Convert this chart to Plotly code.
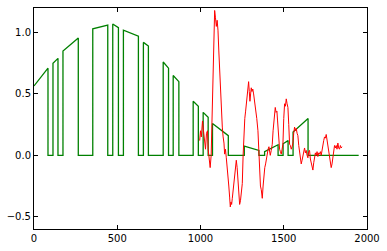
import plotly.graph_objects as go

# Green series: breakpoints (x, y); repeated x values are vertical jumps
green_x = [0, 84, 84, 114, 114, 144, 144, 174, 174, 266, 266, 353, 353, 443, 443, 473, 473, 507, 507,
           537, 537, 627, 627, 657, 657, 687, 687, 776, 776, 808, 808, 836, 836, 870, 870, 956, 956,
           987, 987, 1016, 1016, 1046, 1046, 1072, 1072, 1167, 1167, 1263, 1263, 1351, 1351, 1385,
           1385, 1466, 1466, 1496, 1496, 1526, 1526, 1556, 1556, 1646, 1646, 1950]
green_y = [0.565, 0.71, 0.0, 0.0, 0.75, 0.79, 0.0, 0.0, 0.85, 0.955, 0.0, 0.0, 1.03, 1.06, 0.0, 0.0,
           1.07, 1.04, 0.0, 0.0, 1.02, 0.97, 0.0, 0.0, 0.92, 0.89, 0.0, 0.0, 0.76, 0.71, 0.0, 0.0,
           0.65, 0.60, 0.0, 0.0, 0.44, 0.40, 0.0, 0.0, 0.35, 0.31, 0.0, 0.0, 0.26, 0.16, 0.0, 0.0,
           0.075, 0.04, 0.0, 0.0, 0.03, 0.086, 0.0, 0.0, 0.094, 0.12, 0.0, 0.0, 0.19, 0.30, 0.0, 0.0]

# Red series: points
red_x = [995, 1000, 1005, 1012, 1018, 1025, 1030, 1036, 1042, 1046, 1052, 1058, 1064, 1070, 1075, 1080,
         1085, 1090, 1095, 1100, 1105, 1110, 1115, 1121, 1126, 1131, 1136, 1141, 1145, 1150, 1155, 1160,
         1165, 1170, 1175, 1179, 1183, 1187, 1191, 1196, 1201, 1206, 1210, 1215, 1220, 1225, 1230, 1235,
         1240, 1245, 1251, 1256, 1261, 1266, 1271, 1276, 1281, 1285, 1289, 1293, 1297, 1301, 1305, 1309,
         1314, 1319, 1324, 1331, 1338, 1345, 1350, 1355, 1360, 1365, 1371, 1376, 1381, 1386, 1391, 1396,
         1401, 1406, 1411, 1415, 1419, 1425, 1431, 1436, 1441, 1445, 1449, 1454, 1459, 1463, 1467, 1471,
         1475, 1480, 1485, 1490, 1495, 1500, 1505, 1510, 1515, 1520, 1525, 1530, 1535, 1540, 1545, 1550,
         1555, 1560, 1565, 1570, 1575, 1580, 1585, 1590, 1595, 1600, 1605, 1610, 1615, 1620, 1625, 1630,
         1635, 1640, 1645, 1650, 1655, 1660, 1665, 1670, 1675, 1680, 1685, 1690, 1695, 1700, 1705, 1710,
         1715, 1720, 1725, 1730, 1735, 1740, 1745, 1750, 1755, 1760, 1765, 1770, 1775, 1780, 1785, 1790,
         1795, 1800, 1805, 1810, 1815, 1820, 1825, 1830, 1835, 1840, 1845, 1850]
red_y = [0.12, 0.2, 0.15, 0.28, 0.2, 0.1, 0.05, 0.18, 0.2, 0.05, -0.05, -0.1, 0.0, 0.4, 0.71, 1.0,
         1.18, 1.12, 1.05, 1.1, 1.02, 0.85, 0.71, 0.44, 0.3, 0.23, 0.15, 0.1, 0.01, 0.05, -0.02, -0.08,
         -0.15, -0.25, -0.34, -0.42, -0.38, -0.4, -0.35, -0.28, -0.2, -0.12, -0.06, -0.04, -0.1, -0.2, -0.33, -0.4,
         -0.37, -0.3, -0.23, 0.0, 0.23, 0.3, 0.36, 0.42, 0.5, 0.55, 0.6, 0.52, 0.44, 0.5, 0.55, 0.52,
         0.54, 0.5, 0.45, 0.39, 0.3, 0.2, 0.0, -0.17, -0.25, -0.28, -0.35, -0.25, -0.12, -0.1, -0.07, -0.02,
         0.0, 0.05, 0.07, 0.02, 0.0, 0.04, 0.09, 0.2, 0.3, 0.37, 0.39, 0.35, 0.36, 0.28, 0.2, 0.1,
         0.05, 0.03, 0.01, 0.05, 0.09, 0.3, 0.42, 0.4, 0.46, 0.42, 0.39, 0.25, 0.09, 0.08, 0.05, 0.07,
         0.1, 0.18, 0.23, 0.2, 0.22, 0.18, 0.16, 0.08, 0.01, -0.04, -0.07, -0.04, 0.0, 0.04, 0.06, 0.02,
         0.04, 0.0, -0.02, 0.03, 0.04, -0.03, -0.07, -0.1, -0.12, -0.06, -0.01, 0.02, 0.0, 0.03, -0.01, 0.02,
         0.01, 0.03, 0.0, 0.05, 0.06, 0.12, 0.15, 0.14, 0.17, 0.12, 0.07, 0.02, -0.04, -0.08, -0.1, -0.07,
         -0.03, 0.04, 0.08, 0.06, 0.08, 0.05, 0.1, 0.06, 0.05, 0.08, 0.06, 0.07]

x_ticks = [0, 500, 1000, 1500, 2000]
x_tick_text = ["0", "500", "1000", "1500", "2000"]
y_ticks = [-0.5, 0.0, 0.5, 1.0]
y_tick_text = ["\u22120.5", "0.0", "0.5", "1.0"]

fig = go.Figure()
fig.add_trace(go.Scatter(x=green_x, y=green_y, mode="lines",
                         line=dict(color="#008000", width=1.3), showlegend=False))
fig.add_trace(go.Scatter(x=red_x, y=red_y, mode="lines",
                         line=dict(color="#ff0000", width=1.0), showlegend=False))

axis_common = dict(showline=True, linecolor="black", linewidth=1, mirror="ticks",
                   ticks="inside", ticklen=4, tickwidth=1, tickcolor="black",
                   showgrid=False, zeroline=False,
                   tickfont=dict(family="DejaVu Sans", size=10, color="black"))

fig.update_layout(
    width=387, height=251,
    margin=dict(l=34, r=19, t=7, b=21),
    paper_bgcolor="white", plot_bgcolor="white",
    xaxis=dict(range=[0, 2000], tickvals=x_ticks, ticktext=x_tick_text, **axis_common),
    yaxis=dict(range=[-0.6, 1.2], tickvals=y_ticks, ticktext=y_tick_text, **axis_common),
)

fig.write_html("out.html")
